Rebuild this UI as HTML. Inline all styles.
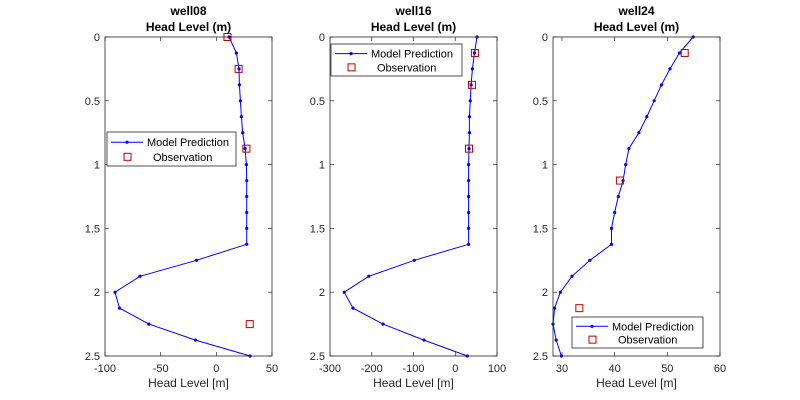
<!DOCTYPE html>
<html><head><meta charset="utf-8"><style>
body{margin:0;background:#fff;}
svg{display:block;font-family:"Liberation Sans",Arial,sans-serif;}
</style></head><body>
<svg id="c" width="800" height="400"></svg>
<script>
const depths=[0,0.125,0.25,0.375,0.5,0.625,0.75,0.875,1,1.125,1.25,1.375,1.5,1.625,1.75,1.875,2,2.125,2.25,2.375,2.5];
const well08Model=[11.4,18,20.4,20.7,21.6,22.5,23.7,25.8,27,27.3,27.3,27.3,27.3,27.3,-17.8,-68.6,-91,-87,-60.6,-18.7,30.3];
const well08ObsDepth=[0,0.25,0.875,2.25];
const well08ObsVal=[10,20,27,30];
const well16Model=[52,46,41,38,36,34,34,33,32,32,32,32,32,32,-98,-207,-266,-245,-173,-75,29];
const well16ObsDepth=[0.125,0.375,0.875];
const well16ObsVal=[47,40,33];
const well24Model=[54.9,52.3,50.5,48.9,47.5,46.1,44.6,42.7,42.1,41.6,40.7,40.0,39.4,39.4,35.3,31.9,29.7,28.6,28.3,28.9,29.9];
const well24ObsDepth=[0.125,1.125,2.125];
const well24ObsVal=[53.3,41.0,33.3];
const yTicks=[0,0.5,1,1.5,2,2.5];
const yTickLabels=["0","0.5","1","1.5","2","2.5"];
const xTicks08=[-100,-50,0,50];
const xTicks16=[-300,-200,-100,0,100];
const xTicks24=[30,40,50,60];
const titles=["well08","well16","well24"];

const svg=document.getElementById('c');
const NS='http://www.w3.org/2000/svg';
function mk(t,a,parent){const e=document.createElementNS(NS,t);for(const k in a)e.setAttribute(k,a[k]);(parent||svg).appendChild(e);return e;}

const panels=[
 {left:105,xmin:-100,xmax:50,model:well08Model,od:well08ObsDepth,ov:well08ObsVal,ticks:xTicks08,leg:[107,132,129,34],name:'well08'},
 {left:330,xmin:-300,xmax:100,model:well16Model,od:well16ObsDepth,ov:well16ObsVal,ticks:xTicks16,leg:[331,44,131,32],name:'well16'},
 {left:553,xmin:28.3,xmax:60,model:well24Model,od:well24ObsDepth,ov:well24ObsVal,ticks:xTicks24,leg:[572,317,131,31],name:'well24'}
];
const plotTop=37,plotBottom=356,W=167;
panels.forEach((p,i)=>{
 const g=mk('g',{});
 
 
 const xs=v=>p.left+(v-p.xmin)/(p.xmax-p.xmin)*W;
 const ys=v=>plotTop+v/2.5*(plotBottom-plotTop);
 mk('rect',{x:p.left,y:plotTop,width:W,height:plotBottom-plotTop,fill:'#fff',stroke:'none'},g);
 yTicks.forEach((t,j)=>{
  const y=ys(t);
  mk('line',{x1:p.left,x2:p.left+4,y1:y,y2:y,stroke:'#262626','stroke-width':0.7},g);
  mk('line',{x1:p.left+W-4,x2:p.left+W,y1:y,y2:y,stroke:'#262626','stroke-width':0.7},g);
  const tx=mk('text',{x:p.left-5,y:y+4,'text-anchor':'end','font-size':11,fill:'#262626'},g);
  tx.textContent=yTickLabels[j];
  
  
 });
 p.ticks.forEach(t=>{
  const x=xs(t);
  mk('line',{x1:x,x2:x,y1:plotBottom,y2:plotBottom-4,stroke:'#262626','stroke-width':0.7},g);
  mk('line',{x1:x,x2:x,y1:plotTop,y2:plotTop+4,stroke:'#262626','stroke-width':0.7},g);
  const tx=mk('text',{x:x,y:plotBottom+16,'text-anchor':'middle','font-size':11,fill:'#262626'},g);
  tx.textContent=String(t);
  
  
 });
 const pts=p.model.map((v,k)=>xs(v).toFixed(1)+','+ys(depths[k]).toFixed(1)).join(' ');
 const pl=mk('polyline',{points:pts,fill:'none',stroke:'#0000ff','stroke-width':1},g);
 
 
 p.model.forEach((v,k)=>{
  const c=mk('circle',{cx:xs(v),cy:ys(depths[k]),r:1.6,fill:'#0000ff'},g);
  
  
 });
 p.ov.forEach((v,k)=>{
  const r=mk('rect',{x:xs(v)-3.5,y:ys(p.od[k])-3.5,width:7,height:7,fill:'none',stroke:'#c00000','stroke-width':1},g);
  
  
 });
 mk('rect',{x:p.left,y:plotTop,width:W,height:plotBottom-plotTop,fill:'none',stroke:'#262626','stroke-width':0.8},g);
 const t1=mk('text',{x:p.left+W/2,y:15,'text-anchor':'middle','font-size':12,'font-weight':'bold',fill:'#000'},g);
 t1.textContent=titles[i];
 
 
 const t2=mk('text',{x:p.left+W/2,y:31,'text-anchor':'middle','font-size':12,'font-weight':'bold',fill:'#000'},g);
 t2.textContent='Head Level (m)';
 
 
 const xl=mk('text',{x:p.left+W/2,y:387,'text-anchor':'middle','font-size':12,fill:'#262626'},g);
 xl.textContent='Head Level [m]';
 
 
 const [lx,ly,lw,lh]=p.leg;
 const lg=mk('g',{},g);
 
 
 mk('rect',{x:lx,y:ly,width:lw,height:lh,fill:'#fff',stroke:'#262626','stroke-width':0.8},lg);
 const r1=ly+lh*0.3,r2=ly+lh*0.73;
 mk('line',{x1:lx+4,x2:lx+36,y1:r1,y2:r1,stroke:'#0000ff','stroke-width':1},lg);
 mk('circle',{cx:lx+20,cy:r1,r:1.6,fill:'#0000ff'},lg);
 const e1=mk('text',{x:lx+40,y:r1+4,'font-size':11,fill:'#000'},lg);
 e1.textContent='Model Prediction';
 
 
 mk('rect',{x:lx+17,y:r2-3.5,width:7,height:7,fill:'none',stroke:'#c00000','stroke-width':1},lg);
 const e2=mk('text',{x:lx+46,y:r2+4,'font-size':11,fill:'#000'},lg);
 e2.textContent='Observation';
 
 
});
</script>
</body></html>
